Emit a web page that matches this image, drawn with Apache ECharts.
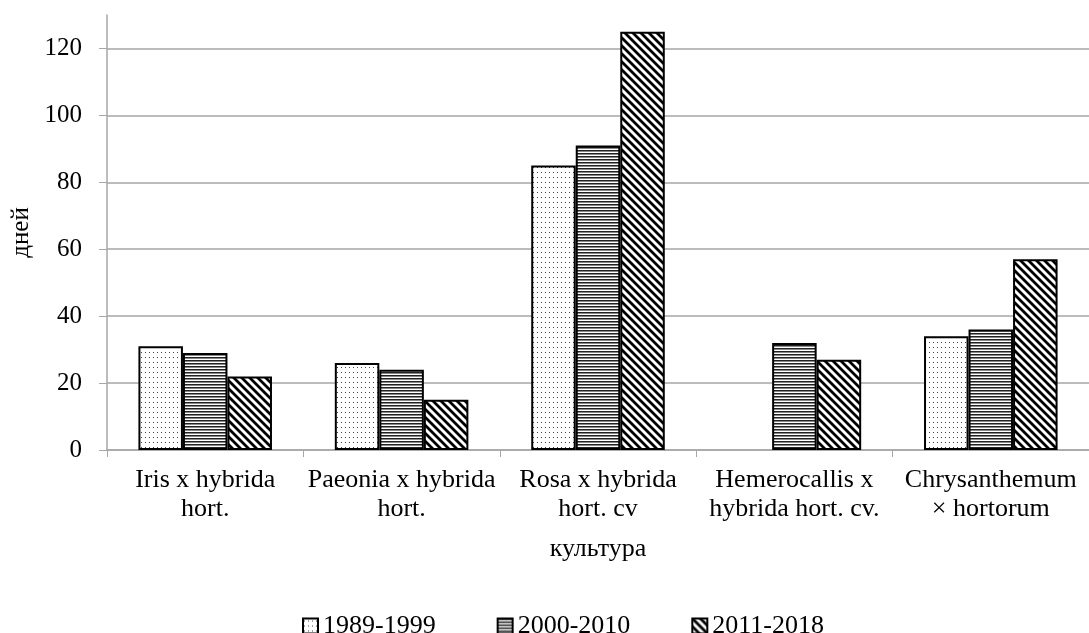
<!DOCTYPE html>
<html>
<head>
<meta charset="utf-8">
<script src="https://cdn.jsdelivr.net/npm/echarts@6/dist/echarts.min.js"></script>
<style>
  html, body { margin: 0; padding: 0; background: #fff; }
  #chart { width: 1089px; height: 633px; }
</style>
</head>
<body>
<div id="chart"></div>
<script>
// данные
var categories = [
  'Iris x hybrida\nhort.',
  'Paeonia x hybrida\nhort.',
  'Rosa x hybrida\nhort. cv',
  'Hemerocallis x\nhybrida hort. cv.',
  'Chrysanthemum\n× hortorum'
];
var seriesNames = ['1989-1999', '2000-2010', '2011-2018'];
var values1989 = [31, 26, 85, null, 34];
var values2000 = [29, 24, 91, 32, 36];
var values2011 = [22, 15, 125, 27, 57];
var yTicks = [0, 20, 40, 60, 80, 100, 120];

// заливки-штриховки
function makePattern(kind) {
  var c = document.createElement('canvas');
  var ctx = c.getContext('2d');
  if (kind === 'dots') {
    c.width = 4; c.height = 5;
    ctx.fillStyle = '#fff'; ctx.fillRect(0, 0, 4, 5);
    ctx.fillStyle = '#444';
    ctx.fillRect(1, 2, 1, 1);
  } else if (kind === 'hlines') {
    c.width = 4; c.height = 3;
    ctx.fillStyle = '#fff'; ctx.fillRect(0, 0, 4, 3);
    ctx.fillStyle = '#222'; ctx.fillRect(0, 0, 4, 1);
    ctx.fillStyle = '#888'; ctx.fillRect(0, 1, 4, 1);
  } else {
    c.width = 8; c.height = 8;
    ctx.fillStyle = '#fff'; ctx.fillRect(0, 0, 8, 8);
    ctx.strokeStyle = '#000'; ctx.lineWidth = 2.8;
    ctx.beginPath();
    ctx.moveTo(-2, -2); ctx.lineTo(10, 10);
    ctx.moveTo(-10, -2); ctx.lineTo(2, 10);
    ctx.moveTo(6, -2); ctx.lineTo(18, 10);
    ctx.stroke();
  }
  return { image: c, repeat: 'repeat' };
}

var fills = [makePattern('dots'), makePattern('hlines'), makePattern('diag')];
var allValues = [values1989, values2000, values2011];

var chart = echarts.init(document.getElementById('chart'));
var font = 'Liberation Serif, Times New Roman, serif';

var option = {
  animation: false,
  textStyle: { fontFamily: font, color: '#000' },
  grid: { left: 107, right: -6, top: 15, bottom: 183 },
  legend: {
    top: 608,
    left: 297,
    itemWidth: 15,
    itemHeight: 15,
    itemGap: 61,
    icon: 'rect',
    textStyle: { fontFamily: font, fontSize: 26, color: '#000' },
    data: seriesNames
  },
  xAxis: {
    type: 'category',
    data: categories,
    name: 'культура',
    nameLocation: 'middle',
    nameGap: 86,
    nameTextStyle: { fontFamily: font, fontSize: 26, color: '#000' },
    axisLine: { lineStyle: { color: '#a6a6a6', width: 1.5 } },
    axisTick: { show: true, length: 7, lineStyle: { color: '#a6a6a6' } },
    axisLabel: { fontFamily: font, fontSize: 26, color: '#000', margin: 16, lineHeight: 29, interval: 0 }
  },
  yAxis: {
    type: 'value',
    min: 0,
    max: 130,
    interval: 20,
    name: 'дней',
    nameLocation: 'middle',
    nameGap: 73,
    nameRotate: 90,
    nameTextStyle: { fontFamily: font, fontSize: 25, color: '#000' },
    axisLine: { show: true, lineStyle: { color: '#a6a6a6', width: 1.5 } },
    axisTick: { show: true, length: 8, customValues: yTicks, lineStyle: { color: '#a6a6a6' } },
    splitLine: { lineStyle: { color: '#a6a6a6', width: 1.5 } },
    axisLabel: { fontFamily: font, fontSize: 25, color: '#000', margin: 25, customValues: yTicks }
  },
  series: seriesNames.map(function (name, i) {
    return {
      name: name,
      type: 'bar',
      data: allValues[i],
      barGap: '0%',
      barCategoryGap: '32%',
      itemStyle: { color: fills[i], borderColor: '#000', borderWidth: 2 }
    };
  })
};

chart.setOption(option);
</script>
</body>
</html>
